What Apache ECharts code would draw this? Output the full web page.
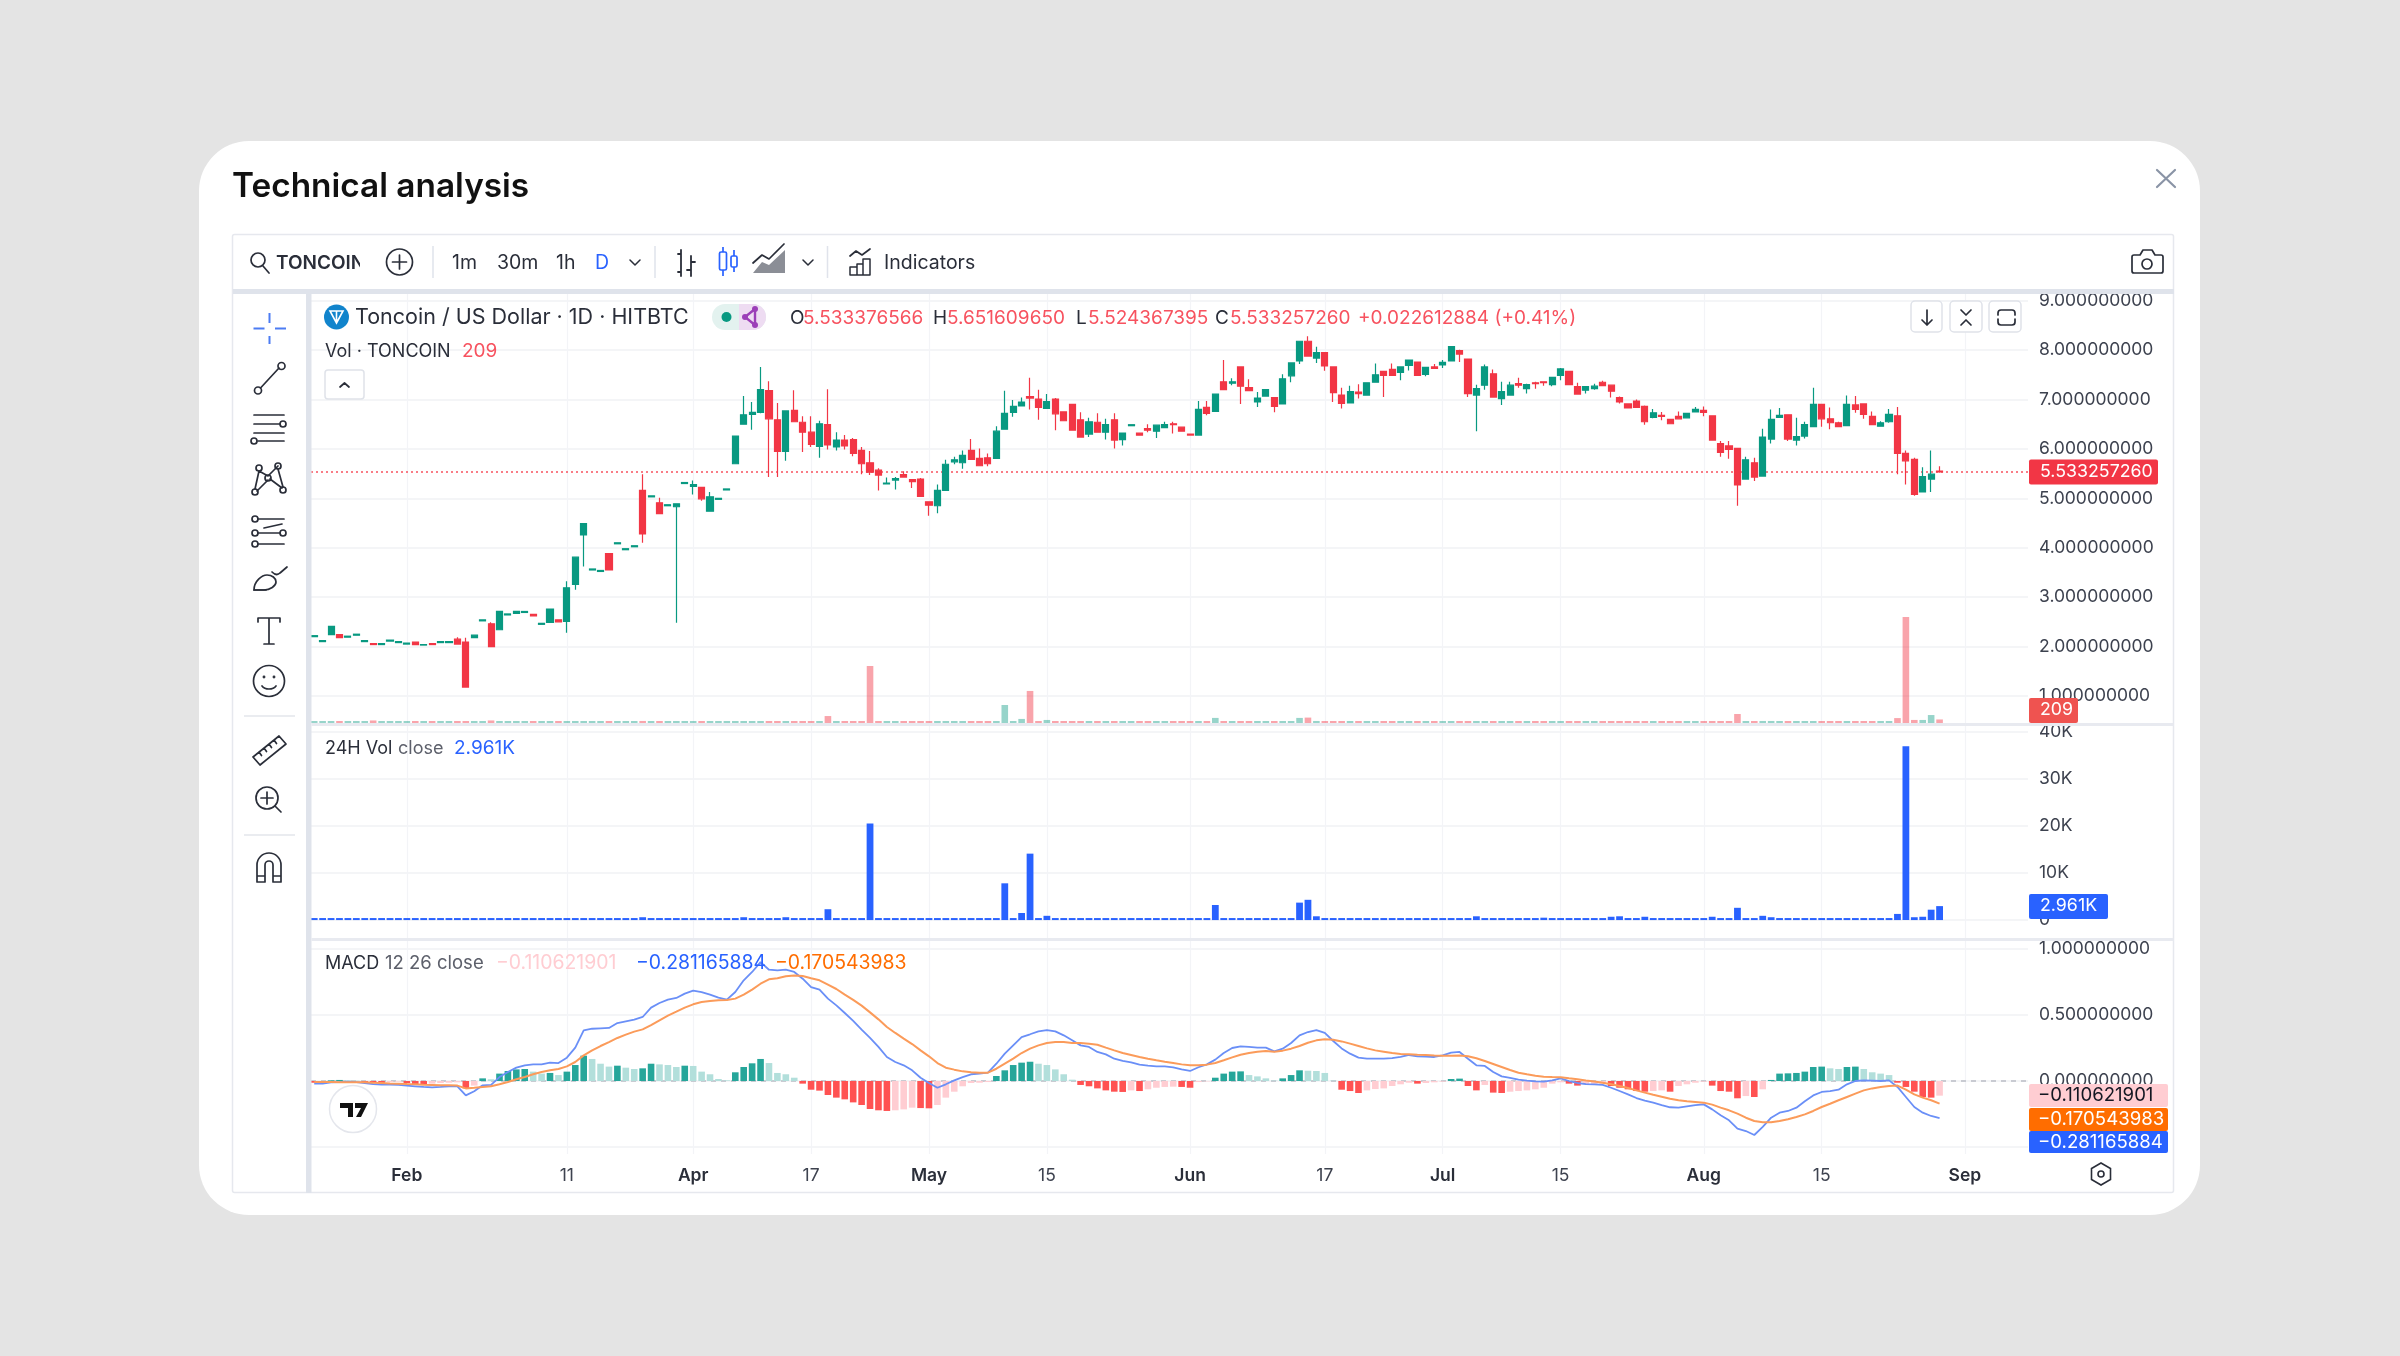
<!DOCTYPE html>
<html>
<head>
<meta charset="utf-8">
<title>Technical analysis</title>
<script src="https://cdn.jsdelivr.net/npm/echarts@6/dist/echarts.min.js"></script>
<style>
html,body{margin:0;padding:0;width:2400px;height:1356px;overflow:hidden;background:#e4e4e4;font-family:Inter,"Noto Sans",sans-serif}
svg.layer{position:absolute;left:0;top:0;filter:blur(0.55px)}
#chart{position:absolute;left:0;top:0;width:2400px;height:1356px;filter:blur(0.55px)}
svg text{font-family:Inter,"Noto Sans",sans-serif}
</style>
</head>
<body>
<svg class="layer" width="2400" height="1356" style="z-index:1">
  <rect x="199" y="141" width="2001" height="1074" rx="50" fill="#fff"/>
  <text x="232" y="197" font-size="33.4" font-weight="600" fill="#111">Technical analysis</text>
  <rect x="232.5" y="234.5" width="1941" height="958" rx="2" fill="#fff" stroke="#e6e8ee" stroke-width="1.5"/>
</svg>
<div id="chart" style="z-index:2"></div>
<svg class="layer" width="2400" height="1356" style="z-index:3">
  <defs><clipPath id="sym"><rect x="270" y="245" width="90" height="34"/></clipPath></defs>
  <rect x="233" y="289" width="1941" height="5" fill="#dfe3eb"/>
  <rect x="306" y="289" width="5.5" height="904" fill="#dfe3eb"/>
  <rect x="311.5" y="723" width="1862" height="3" fill="#e8eaf0"/>
  <rect x="311.5" y="938" width="1862" height="3" fill="#e8eaf0"/>
  <path d="M753 273l9-11 7 3 16-15v23z" fill="#8b8e96"/>
  <g fill="none" stroke="#2a2e39" stroke-width="1.7" stroke-linecap="round" stroke-linejoin="round">
    <circle cx="258" cy="260" r="7"/><path d="M263 266l6 7"/>
    <circle cx="399.5" cy="262" r="13"/><path d="M399.5 255v14M392.5 262h14"/>
    <path d="M630 260l5 5 5-5M803 260l5 5 5-5" stroke-width="1.5"/>
    <path d="M681 250v26M681 254h-3M681 272h-3M691 256v20M691 262h4M691 270h-4" stroke-width="1.8"/>
    <path d="M753 263l9-8 7 4 15-15"/>
    <path d="M850 256l6-5 6 4 8-6"/><path d="M850 267h7v8h-7zM857 264h6v11h-6zM863 259h7v16h-7z" stroke-width="1.5"/>
    <path d="M2134 255h6l3-5h9l3 5h6a2 2 0 0 1 2 2v14a2 2 0 0 1-2 2h-27a2 2 0 0 1-2-2v-14a2 2 0 0 1 2-2z"/><circle cx="2147" cy="264" r="5"/>
    <path d="M2157 170l18 17M2175 170l-18 17" stroke="#8a94a6" stroke-width="2.2"/>
    <circle cx="258" cy="390.5" r="3.5"/><circle cx="281.5" cy="366" r="3.5"/><path d="M260.5 388l18.5-20"/>
    <path d="M254 415h30M254 424h26M254 433h30M258 441h26"/><circle cx="283" cy="424" r="3"/><circle cx="254" cy="441" r="3"/>
    <circle cx="259" cy="468" r="3"/><circle cx="278" cy="466" r="3"/><circle cx="268" cy="478" r="3"/><circle cx="255" cy="492" r="3"/><circle cx="283" cy="490" r="3"/>
    <path d="M259 471l9 5 10-10M259 471l-4 18M268 480l-11 11M270 479l12 9M278 469l5 18"/>
    <path d="M258 519h26M258 533h22M258 544h26M264 528l18-4" stroke-dasharray="0"/><circle cx="255" cy="519" r="3"/><circle cx="283" cy="533" r="3"/><circle cx="255" cy="533" r="3"/><circle cx="255" cy="544" r="3"/>
    <path d="M254 590c0-9 8-15 13-15 5 0 9 3 9 7s-6 8-12 8z"/><path d="M254 590h12"/><path d="M272 572c3 3 6 3 8 1l7-6"/>
    <path d="M258 622v-4h22v4M269 618v26M264 644h10"/>
    <circle cx="269" cy="681" r="15.5"/><path d="M262 686c3 4 11 4 14 0"/><circle cx="264" cy="677" r="0.6"/><circle cx="274" cy="677" r="0.6"/>
    <path d="M253 757l26-21 7 8-26 21zM259 752l2.500 3.500M264 748l2.500 3.500M269 744l2.500 3.500M274 740l2.500 3.500"/>
    <circle cx="267" cy="798" r="11"/><path d="M267 792v12M261 798h12M275 806l6 6"/>
    <path d="M257 882v-17a12 12 0 0 1 24 0v17h-8v-17a4 4 0 0 0-8 0v17zM257 876h8M273 876h8"/>
  </g>
  <path d="M269.5 313v10M269.5 336v8M253.5 328.5h11M275 328.5h11" stroke="#4c7cf3" stroke-width="2"/>
  <path d="M244 716h51M244 835h51" stroke="#e4e6ec" stroke-width="1.5"/>
  <text x="276" y="269" font-size="19" font-weight="600" fill="#2a2e39" clip-path="url(#sym)">TONCOIN</text>
  <g font-size="19.5" fill="#2a2e39">
    <text x="452" y="269">1m</text><text x="497" y="269">30m</text><text x="556" y="269">1h</text>
    <text x="595" y="269" fill="#2962ff">D</text><text x="884" y="269">Indicators</text>
  </g>
  <path d="M433 246v32M655 246v32M827.5 246v32" stroke="#e0e3eb" stroke-width="1.5"/>
  <rect x="719.5" y="252" width="7" height="18" rx="1.5" fill="none" stroke="#2962ff" stroke-width="1.7"/>
  <path d="M723 247v5M723 270v6M734 250v6M734 267v5" stroke="#2962ff" stroke-width="1.7"/>
  <rect x="731" y="256" width="6" height="11" rx="1.5" fill="#fff" stroke="#2962ff" stroke-width="1.7"/>
  <circle cx="336.5" cy="317" r="12.5" fill="#1184cc"/>
  <path d="M330 311h13l-6.5 12zM336.500 311v12" fill="none" stroke="#fff" stroke-width="1.6"/>
  <rect x="712" y="304" width="54" height="26" rx="13" fill="#e3f2ef"/>
  <path d="M739 304h14a13 13 0 0 1 0 26h-14z" fill="#eedcf2"/>
  <circle cx="726.500" cy="317" r="5" fill="#089981"/>
  <path d="M755 309l-10 8 10 8" fill="none" stroke="#9c3fb8" stroke-width="2.4"/><path d="M755 309v16" stroke="#9c3fb8" stroke-width="2.4"/>
  <circle cx="755" cy="309" r="3" fill="#9c3fb8"/><circle cx="755" cy="325" r="3" fill="#9c3fb8"/><circle cx="745" cy="317" r="3" fill="#9c3fb8"/>
  <g fill="#fff" stroke="#dfe2e9" stroke-width="1.5">
    <rect x="325" y="370" width="39" height="29" rx="3"/>
    <rect x="1911" y="301" width="31" height="31" rx="4"/><rect x="1950" y="301" width="32" height="31" rx="4"/><rect x="1989" y="301" width="32" height="31" rx="4"/>
  </g>
  <g fill="none" stroke="#2a2e39" stroke-width="1.7" stroke-linecap="round" stroke-linejoin="round">
    <path d="M340 387l4.500-4 4.500 4"/>
    <path d="M1927 310v15M1922 320l5 5 5-5"/>
    <path d="M1961 310l5 5 5-5M1961 325l5-5 5 5"/>
    <path d="M1998 315v-2a3 3 0 0 1 3-3h11a3 3 0 0 1 3 3v2M1998 319v3a3 3 0 0 0 3 3h11a3 3 0 0 0 3-3v-3"/>
  </g>
  <circle cx="353" cy="1109" r="23.500" fill="#fff" stroke="#e4e6ec" stroke-width="1.5"/>
  <path d="M340 1103h13v14h-5v-9h-8zM355 1103h13l-7 14h-5l5-9h-6z" fill="#111"/>
  <path d="M2101 1163l9.500 5.500v11l-9.500 5.500-9.500-5.500v-11z" fill="none" stroke="#2a2e39" stroke-width="1.6"/>
  <circle cx="2101" cy="1174" r="3" fill="none" stroke="#2a2e39" stroke-width="1.6"/>
</svg>
<script>
// Candles (Toncoin / US Dollar, 1D, HITBTC)
const opens = [
2.20,2.10,2.24,2.24,2.19,2.23,2.10,2.06,2.04,2.11,
2.08,2.05,2.09,2.03,2.06,2.08,2.08,2.15,2.09,2.18,
2.52,2.46,2.34,2.64,2.67,2.69,2.65,2.45,2.49,2.54,
2.51,3.26,4.26,3.55,3.52,3.88,4.08,3.96,4.02,5.16,
5.03,4.91,4.85,4.83,5.30,5.24,5.22,4.74,4.98,5.17,
5.70,6.50,6.70,6.74,7.18,6.59,5.95,6.78,6.54,6.34,
6.05,6.49,6.04,6.18,6.19,5.97,5.72,5.57,5.29,5.37,
5.48,5.38,5.39,4.93,4.85,5.16,5.74,5.72,5.97,5.81,
5.82,5.81,6.40,6.74,6.87,7.06,7.01,6.82,7.01,6.75,
6.90,6.59,6.30,6.54,6.34,6.59,6.19,6.47,6.32,6.41,
6.36,6.43,6.51,6.44,6.30,6.28,6.84,6.76,7.36,7.33,
7.66,7.24,6.95,7.07,7.04,6.91,7.48,7.78,8.18,7.84,
7.95,7.66,7.09,6.93,7.15,7.09,7.35,7.57,7.61,7.55,
7.69,7.76,7.51,7.66,7.70,7.78,7.99,7.82,7.09,7.29,
7.52,7.02,7.09,7.32,7.22,7.34,7.36,7.30,7.49,7.57,
7.26,7.19,7.22,7.35,7.29,7.04,6.91,6.97,6.86,6.64,
6.68,6.60,6.66,6.63,6.75,6.78,6.67,6.11,6.06,6.01,
5.39,5.72,5.45,6.20,6.64,6.69,6.18,6.26,6.45,6.90,
6.61,6.53,6.47,6.89,6.91,6.66,6.46,6.55,6.67,5.91,
5.79,5.13,5.39,5.55];
const closes = [
2.22,2.12,2.41,2.18,2.21,2.25,2.12,2.04,2.06,2.13,
2.10,2.07,2.04,2.04,2.04,2.10,2.10,2.05,1.18,2.23,
2.54,2.00,2.71,2.66,2.71,2.71,2.62,2.47,2.76,2.50,
3.19,3.81,4.49,3.57,3.54,3.55,4.10,3.98,4.04,4.28,
5.05,4.69,4.87,4.89,5.32,5.28,4.99,5.03,5.00,5.19,
6.26,6.69,6.74,7.20,6.61,5.95,6.77,6.55,6.34,6.09,
6.51,6.08,6.18,6.06,5.91,5.70,5.53,5.47,5.31,5.40,
5.43,5.34,5.04,4.86,5.16,5.69,5.78,5.87,5.79,5.66,
5.70,6.36,6.72,6.86,6.95,7.03,6.84,6.96,6.71,6.57,
6.38,6.24,6.55,6.34,6.49,6.18,6.32,6.49,6.28,6.38,
6.48,6.49,6.49,6.36,6.28,6.80,6.72,7.11,7.20,7.36,
7.27,7.18,7.03,7.20,6.86,7.42,7.74,8.18,7.88,7.95,
7.68,7.14,6.92,7.16,7.12,7.34,7.50,7.49,7.49,7.66,
7.80,7.49,7.65,7.63,7.75,8.07,7.92,7.12,7.22,7.66,
7.05,7.16,7.29,7.29,7.30,7.32,7.34,7.45,7.62,7.30,
7.11,7.26,7.27,7.28,7.17,6.95,6.83,6.84,6.55,6.73,
6.66,6.51,6.61,6.72,6.80,6.74,6.18,5.93,5.99,5.27,
5.78,5.43,6.24,6.60,6.68,6.20,6.25,6.49,6.90,6.61,
6.53,6.45,6.90,6.80,6.70,6.49,6.53,6.70,5.91,5.76,
5.08,5.44,5.49,5.533257260];
const lows = [
2.20,2.10,2.24,2.18,2.19,2.23,2.10,2.04,2.04,2.11,
2.08,2.05,2.04,2.03,2.04,2.08,2.08,2.05,1.18,2.18,
2.52,2.00,2.34,2.64,2.67,2.69,2.62,2.45,2.49,2.50,
2.28,3.15,3.62,3.55,3.52,3.55,4.08,3.96,4.02,4.10,
5.03,4.69,4.85,2.48,5.30,5.08,4.95,4.74,4.98,5.17,
5.70,6.50,6.39,6.72,5.43,5.43,5.76,6.55,5.94,6.04,
5.82,5.99,5.97,5.99,5.85,5.49,5.47,5.16,5.28,5.18,
5.43,5.21,5.04,4.65,4.70,5.15,5.69,5.60,5.79,5.66,
5.65,5.81,6.40,6.65,6.87,6.80,6.59,6.82,6.38,6.57,
6.38,6.24,6.24,6.34,6.19,6.01,6.07,6.47,6.28,6.34,
6.22,6.43,6.31,6.36,6.28,6.28,6.68,6.76,7.20,7.29,
6.91,7.18,6.85,7.07,6.74,6.90,7.35,7.72,7.88,7.74,
7.58,6.95,6.82,6.93,7.02,7.09,7.35,7.05,7.49,7.39,
7.59,7.49,7.47,7.63,7.64,7.78,7.76,7.05,6.36,7.20,
7.05,6.89,7.09,7.24,7.12,7.22,7.28,7.27,7.39,7.30,
7.11,7.12,7.20,7.28,7.04,6.92,6.82,6.83,6.49,6.62,
6.58,6.51,6.61,6.63,6.75,6.66,6.18,5.84,5.80,4.85,
5.39,5.35,5.45,6.11,6.63,6.16,6.07,6.21,6.45,6.45,
6.40,6.44,6.47,6.73,6.61,6.49,6.45,6.53,5.49,5.28,
5.05,5.13,5.13,5.52];
const highs = [
2.22,2.12,2.41,2.24,2.21,2.25,2.12,2.06,2.06,2.13,
2.10,2.07,2.09,2.04,2.06,2.10,2.10,2.19,2.18,2.23,
2.54,2.49,2.71,2.66,2.71,2.71,2.65,2.47,2.76,2.54,
3.32,3.81,4.49,3.57,3.54,3.88,4.10,3.98,4.04,5.49,
5.05,5.01,4.87,4.89,5.32,5.36,5.22,5.13,5.00,5.19,
6.26,7.07,6.95,7.66,7.37,6.93,6.77,7.19,6.66,6.66,
6.57,7.21,6.34,6.28,6.22,6.04,5.96,5.61,5.42,5.43,
5.55,5.38,5.41,4.93,5.28,5.78,5.84,5.97,6.20,6.01,
5.91,6.46,7.18,6.99,7.04,7.44,7.20,7.11,7.03,6.75,
6.90,6.74,6.63,6.72,6.61,6.72,6.32,6.49,6.32,6.50,
6.48,6.55,6.55,6.44,6.30,6.97,6.97,7.11,7.80,7.43,
7.66,7.41,7.15,7.20,7.04,7.51,7.74,8.19,8.28,8.07,
7.96,7.66,7.24,7.28,7.31,7.34,7.73,7.58,7.73,7.66,
7.80,7.76,7.65,7.72,7.80,8.07,8.01,7.82,7.30,7.71,
7.61,7.36,7.36,7.44,7.32,7.36,7.36,7.46,7.64,7.57,
7.34,7.26,7.32,7.38,7.29,7.06,6.92,7.00,6.88,6.81,
6.75,6.60,6.76,6.72,6.85,6.86,6.67,6.16,6.16,6.01,
5.84,5.82,6.41,6.80,6.83,6.70,6.63,6.55,7.24,6.90,
6.84,6.55,7.08,7.07,6.91,6.76,6.56,6.81,6.85,5.97,
5.82,5.63,5.97,5.651609650];
// Volume in TONCOIN
const volumes = [
30,30,30,30,30,30,30,150,30,30,
30,30,30,30,30,30,30,30,30,30,
30,150,30,30,30,30,30,30,30,30,
30,30,30,30,30,30,30,30,30,120,
30,30,30,30,30,30,30,30,30,30,
30,100,30,30,30,100,100,30,30,30,
30,410,30,30,30,30,3360,30,30,30,
30,30,30,30,30,30,30,30,30,30,
30,30,1060,100,240,1890,30,180,40,30,
30,30,30,30,30,30,30,30,30,30,
30,30,30,30,30,30,30,300,30,30,
30,30,30,30,30,30,30,300,320,120,
30,30,30,30,30,30,30,30,30,30,
30,30,30,30,30,30,30,30,30,30,
30,30,30,30,30,30,30,30,30,30,
30,30,30,30,30,30,30,30,100,30,
30,30,30,30,30,30,100,30,30,530,
30,30,120,120,30,30,30,30,30,30,
30,30,30,30,30,30,30,30,290,6250,
180,180,470,209];
// 24H Vol close
const vol24h = [
150,150,150,150,150,150,150,300,150,150,
150,150,150,150,150,150,150,150,150,150,
150,300,300,150,150,150,150,150,150,150,
150,150,150,150,150,150,150,150,150,600,
150,150,150,150,150,150,150,150,150,150,
150,600,300,300,300,400,600,300,400,400,
400,2300,150,150,300,150,20500,150,150,150,
150,150,150,150,150,200,150,150,150,150,
150,300,7800,400,1500,14100,200,900,300,150,
150,150,150,300,150,300,150,150,150,150,
150,150,150,150,150,150,400,3200,300,150,
150,150,150,150,150,150,150,3700,4300,800,
150,150,150,150,150,150,150,300,150,150,
150,150,150,150,150,150,150,150,800,150,
150,150,300,300,150,150,500,150,150,150,
300,150,300,150,700,800,150,150,700,150,
150,150,150,150,150,150,700,300,150,2600,
150,150,900,600,150,150,200,150,300,300,
150,150,150,150,150,300,150,150,1300,36900,
600,700,2200,2961];
// MACD 12 26 close
const macdHist = [
-.013,-.008,.005,.008,.005,.003,-.008,-.013,-.018,-.008,
-.005,-.015,-.023,-.025,-.020,-.015,-.013,-.010,-.056,-.035,
.020,.013,.056,.076,.088,.091,.071,.056,.061,.045,
.071,.121,.192,.167,.131,.109,.116,.101,.091,.096,
.131,.126,.121,.106,.116,.114,.071,.051,.015,.005,
.066,.106,.134,.167,.136,.061,.051,.025,-.020,-.066,
-.073,-.106,-.126,-.139,-.162,-.182,-.212,-.222,-.227,-.222,
-.215,-.202,-.205,-.207,-.182,-.126,-.081,-.040,-.015,-.013,
-.008,.038,.081,.121,.139,.146,.131,.121,.088,.051,
.010,-.030,-.040,-.056,-.071,-.081,-.083,-.071,-.076,-.063,
-.051,-.045,-.043,-.045,-.051,-.008,-.003,.025,.056,.071,
.073,.045,.035,.020,.003,.020,.045,.081,.078,.076,
.061,.003,-.066,-.076,-.091,-.071,-.061,-.056,-.038,-.025,
-.013,-.020,-.015,-.010,-.005,.015,.018,-.038,-.071,-.030,
-.088,-.091,-.081,-.076,-.071,-.063,-.051,-.020,-.010,-.020,
-.035,-.025,-.023,-.020,-.038,-.051,-.063,-.076,-.081,-.076,
-.071,-.081,-.038,-.025,-.013,-.005,-.035,-.076,-.081,-.131,
-.114,-.121,-.063,.008,.056,.058,.061,.071,.106,.109,
.096,.091,.106,.109,.091,.066,.056,.045,-.013,-.045,
-.081,-.121,-.126,-.111];
const macdLine = [
-.020,-.020,-.010,-.008,-.005,-.008,-.015,-.023,-.028,-.028,
-.030,-.035,-.040,-.045,-.048,-.045,-.040,-.040,-.109,-.078,
-.033,-.030,.030,.068,.101,.119,.126,.126,.139,.136,
.177,.253,.384,.396,.399,.402,.439,.452,.465,.485,
.556,.591,.616,.629,.662,.684,.674,.654,.631,.616,
.674,.763,.826,.901,.843,.838,.843,.826,.775,.712,
.692,.624,.573,.515,.455,.389,.326,.258,.182,.144,
.119,.081,.025,-.015,-.051,-.025,.005,.030,.051,.056,
.063,.131,.207,.270,.333,.354,.376,.386,.376,.346,
.308,.270,.258,.220,.202,.169,.152,.141,.124,.116,
.111,.111,.104,.088,.076,.104,.126,.162,.212,.250,
.263,.258,.253,.253,.225,.245,.288,.346,.371,.386,
.364,.303,.247,.207,.177,.169,.169,.169,.174,.182,
.197,.187,.184,.182,.194,.215,.220,.169,.119,.114,
.068,.035,.023,.010,.003,-.003,-.005,.005,.020,0,
-.015,-.023,-.025,-.030,-.051,-.076,-.101,-.129,-.149,-.164,
-.182,-.199,-.202,-.192,-.182,-.177,-.215,-.260,-.298,-.361,
-.379,-.409,-.348,-.278,-.240,-.227,-.202,-.154,-.109,-.083,
-.076,-.066,-.025,0,.005,.003,0,.005,-.045,-.121,
-.197,-.240,-.265,-.281];
const signalLine = [
-.008,-.008,-.008,-.010,-.010,-.010,-.010,-.013,-.015,-.018,
-.020,-.023,-.025,-.028,-.030,-.033,-.033,-.035,-.056,-.051,
-.045,-.040,-.025,-.008,.013,.030,.051,.068,.081,.091,
.111,.144,.194,.232,.265,.295,.326,.351,.374,.391,
.424,.460,.495,.525,.556,.581,.598,.606,.611,.614,
.624,.654,.692,.737,.770,.778,.793,.800,.795,.778,
.763,.730,.697,.654,.614,.571,.520,.467,.409,.364,
.321,.280,.232,.187,.136,.101,.086,.073,.066,.063,
.063,.093,.131,.169,.212,.245,.270,.288,.295,.295,
.288,.288,.283,.275,.253,.232,.212,.197,.182,.169,
.157,.146,.136,.126,.119,.119,.124,.136,.157,.179,
.199,.212,.222,.227,.222,.230,.245,.265,.290,.308,
.316,.313,.300,.283,.265,.247,.232,.222,.212,.205,
.202,.199,.197,.194,.192,.192,.194,.187,.172,.152,
.129,.106,.083,.063,.051,.040,.033,.030,.028,.020,
.013,.003,-.003,-.013,-.025,-.038,-.053,-.071,-.088,-.104,
-.119,-.134,-.146,-.154,-.159,-.164,-.179,-.202,-.222,-.247,
-.278,-.303,-.313,-.313,-.303,-.290,-.273,-.253,-.227,-.197,
-.172,-.146,-.121,-.096,-.071,-.056,-.045,-.038,-.035,-.066,
-.101,-.126,-.146,-.171];
// Time axis: 194 sessions plus empty slots up to the right edge; the labelled sessions
const slotCount = 204;
const tickSlots = [11,30,45,59,73,87,104,120,134,148,165,179,196];
const tickTexts = ['Feb','11','Apr','17','May','15','Jun','17','Jul','15','Aug','15','Sep'];
const priceTicks = [1,2,3,4,5,6,7,8,9];
const volTicks = [0,10000,20000,30000,40000];
const macdTicks = [-0.5,0,0.5,1];
const lastClose = 5.533257260;

const GREEN='#089981', RED='#f23645';
const FONT='Inter, "Noto Sans", sans-serif';
const categories = Array.from({length:slotCount},(_,i)=>String(i));
const isTick = i => tickSlots.indexOf(i) >= 0;
const labelFor = v => {
  const t = tickTexts[tickSlots.indexOf(+v)];
  return /^[A-Z]/.test(t) ? '{b|'+t+'}' : '{n|'+t+'}';
};
const gridLine = {color:'#f1f2f5',width:1.5};
function xAxis(g,labels){
  return {type:'category',gridIndex:g,data:categories,boundaryGap:true,
    axisLine:{show:false},axisTick:{show:false},
    splitLine:{show:true,alignWithLabel:true,interval:i=>isTick(i),lineStyle:{color:'#f3f4f7',width:1.2}},
    axisLabel:labels?{show:true,interval:i=>isTick(i),formatter:labelFor,margin:13,
      rich:{b:{fontFamily:FONT,fontSize:17.5,fontWeight:600,color:'#2a2e39'},n:{fontFamily:FONT,fontSize:17.5,color:'#3d424f'}}}:{show:false}};
}
function yAxis(g,min,max,ticks,fmt,pad){
  return {type:'value',gridIndex:g,position:'right',min,max,scale:true,
    axisLine:{show:false},axisTick:{show:false,customValues:ticks},
    splitLine:{show:true,lineStyle:gridLine},
    axisLabel:{show:true,customValues:ticks,formatter:fmt,margin:11,padding:[pad,0,0,0],fontFamily:FONT,fontSize:17.5,color:'#3d424f',align:'left'}};
}
const candles = opens.map((o,i)=>[o,closes[i],lows[i],highs[i]]);
const volBars = volumes.map((v,i)=>({value:v,itemStyle:{color:closes[i]>=opens[i]?'rgba(8,153,129,0.42)':'rgba(242,54,69,0.45)'}}));
const histBars = macdHist.map((v,i)=>{
  const p = i?macdHist[i-1]:0; let c;
  if(v>=0) c = v>p?'#26a69a':'#b2dfdb'; else c = v<p?'#ff5252':'#ffcdd2';
  return {value:v,itemStyle:{color:c}};
});
const chart = echarts.init(document.getElementById('chart'),null,{width:2400,height:1356});
chart.setOption({
  animation:false,
  backgroundColor:'transparent',
  grid:[
    {left:310,width:1718,top:294,height:429},
    {left:310,width:1718,top:726,height:212},
    {left:310,width:1718,top:941,height:213}
  ],
  xAxis:[xAxis(0,false),xAxis(1,false),xAxis(2,true)],
  yAxis:[
    yAxis(0,0.4525,9.136,priceTicks,v=>v.toFixed(9),3),
    {type:'value',gridIndex:0,show:false,min:0,max:25300,splitLine:{show:false}},
    yAxis(1,-3810,41200,volTicks,v=>v?(v/1000)+'K':'0',0),
    yAxis(2,-0.553,1.0606,macdTicks,v=>v.toFixed(9),3)
  ],
  series:[
    {type:'bar',name:'Vol',xAxisIndex:0,yAxisIndex:1,data:volBars,barWidth:6.6,barMinHeight:2,z:2},
    {type:'candlestick',name:'Toncoin',xAxisIndex:0,yAxisIndex:0,data:candles,barWidth:6.6,z:3,
      itemStyle:{color:GREEN,color0:RED,borderColor:GREEN,borderColor0:RED,borderWidth:1.2}},
    {type:'bar',name:'24H Vol',xAxisIndex:1,yAxisIndex:2,data:vol24h,barWidth:6.8,barMinHeight:2,itemStyle:{color:'#2962ff'}},
    {type:'bar',name:'Histogram',xAxisIndex:2,yAxisIndex:3,data:histBars,barWidth:6.6,z:2},
    {type:'line',name:'MACD',xAxisIndex:2,yAxisIndex:3,data:macdLine,showSymbol:false,lineStyle:{color:'#6a8ff7',width:1.8},z:4},
    {type:'line',name:'Signal',xAxisIndex:2,yAxisIndex:3,data:signalLine,showSymbol:false,lineStyle:{color:'#fb9b5a',width:2},z:5}
  ]
});
function txt(x,y,text,fill,size,weight){
  return {type:'text',left:x,top:y-((size||18)*0.62)+2.5,z:50,silent:true,
    style:{text,fill,font:(weight||400)+' '+(size||18)+'px '+FONT}};
}
function tag(x0,x1,y0,y1,fill,text,fg,tx,fs){
  return [{type:'rect',z:60,silent:true,shape:{x:x0,y:y0,width:x1-x0,height:y1-y0,r:2},style:{fill}},
    {type:'text',left:tx||x0+11,top:(y0+y1)/2-9.5,z:61,silent:true,style:{text,fill:fg||'#fff',font:'400 '+(fs||17.8)+'px '+FONT}}];
}
function rule(y,color,dash){
  return {type:'line',z:1,silent:true,shape:{x1:311,y1:y,x2:2028,y2:y},style:{stroke:color,lineWidth:1.4,lineDash:dash}};
}
const py = chart.convertToPixel({yAxisIndex:0},lastClose);
const zy = chart.convertToPixel({yAxisIndex:3},0);
const pink='#f7525f', dark='#2a2e39', grey='#5d606b';
chart.setOption({graphic:[].concat(
  rule(py,'#f7525f',[2,3]),
  rule(zy,'#b7bac2',[5,5]),
  txt(355,317,'Toncoin / US Dollar · 1D · HITBTC',dark,21.5),
  txt(790,318,'O',dark,19),txt(803,318,'5.533376566',pink,19),
  txt(933,318,'H',dark,19),txt(947,318,'5.651609650',pink,19),
  txt(1076,318,'L',dark,19),txt(1088,318,'5.524367395',pink,19),
  txt(1215,318,'C',dark,19),txt(1230,318,'5.533257260',pink,19),
  txt(1358,318,'+0.022612884 (+0.41%)',pink,19),
  txt(325,351,'Vol · TONCOIN',dark,18),txt(462,351,'209',pink,19),
  txt(325,748,'24H Vol',dark,18),txt(398,748,'close',grey,18),txt(454,748,'2.961K','#2962ff',19),
  txt(325,963,'MACD',dark,18),txt(385,963,'12 26 close',grey,18.5),
  txt(496,963,'\u22120.110621901','#ffcdd2',19.4),txt(636,963,'\u22120.281165884','#2962ff',19.4),txt(775,963,'\u22120.170543983','#ff6d00',19.4),
  tag(2029,2158,py-12.5,py+12.5,RED,'5.533257260'),
  tag(2029,2078,698,723,'#ef5350','209'),
  tag(2029,2108,894,919,'#2962ff','2.961K'),
  tag(2029,2168,1084,1107,'#ffcdd2','\u22120.110621901','#131722',2038,18.6),
  tag(2029,2168,1108,1131,'#ff6d00','\u22120.170543983','#fff',2038,18.6),
  tag(2029,2168,1131,1153,'#2962ff','\u22120.281165884','#fff',2038,18.6)
)});
</script>
</body>
</html>
